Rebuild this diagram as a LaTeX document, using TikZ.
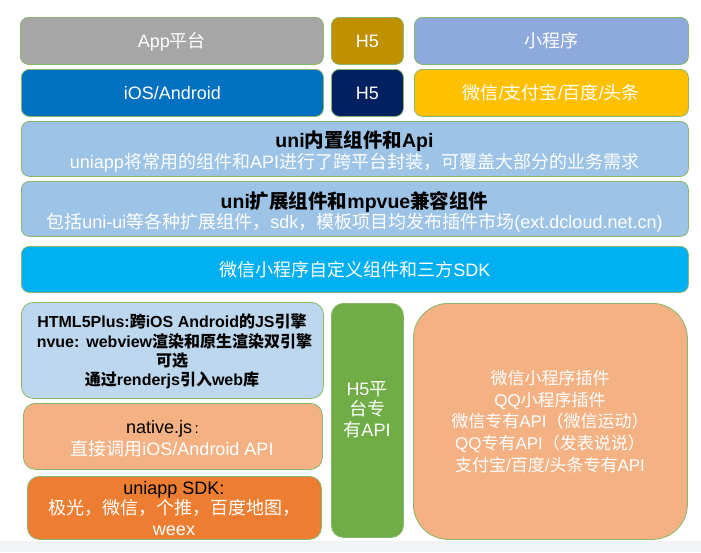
\documentclass[tikz,border=0pt]{standalone}
\usepackage{fontspec}
\setmainfont{Liberation Sans}
\newfontfamily\cjk{Noto Sans CJK SC}
\definecolor{bd}{RGB}{135,182,108}
\definecolor{cgray}{HTML}{A6A6A6}
\definecolor{cgold}{HTML}{BF9000}
\definecolor{cmp}{HTML}{8EA9DB}
\definecolor{cblue}{HTML}{0070C0}
\definecolor{cnavy}{HTML}{002060}
\definecolor{cyel}{HTML}{FFC000}
\definecolor{clblue}{HTML}{9DC3E6}
\definecolor{ccyan}{HTML}{00B0F0}
\definecolor{cpale}{HTML}{BDD7EE}
\definecolor{cpeach}{HTML}{F4B183}
\definecolor{corange}{HTML}{ED7D31}
\definecolor{cgreen}{HTML}{70AD47}
\definecolor{cstrip}{HTML}{F2F3F5}
\begin{document}
\begin{tikzpicture}[x=1pt,y=-1pt,
  box/.style={draw=bd, line width=0.8pt, rounded corners=8pt, inner sep=0pt, anchor=north west},
  t18/.style={inner sep=0pt, text=white, font=\fontsize{18}{21}\selectfont, text height=16.2pt, text depth=2.9pt},
  t17/.style={inner sep=0pt, text=white, font=\fontsize{17}{20}\selectfont, text height=15.3pt, text depth=2.7pt},
  tb19/.style={inner sep=0pt, text=black, font=\fontsize{19.5}{22}\selectfont\bfseries, text height=17.5pt, text depth=3.1pt},
  tb16/.style={inner sep=0pt, text=black, font=\fontsize{16}{19}\selectfont\bfseries, text height=14.4pt, text depth=2.6pt}]
\useasboundingbox (0,0) rectangle (701,552);
\node[fill=cstrip, inner sep=0pt, anchor=north west, minimum width=701pt, minimum height=11pt] (strip) at (0,541) {};
% top rows
\node[box, fill=cgray, minimum width=303pt, minimum height=47pt] (app) at (20,17) {};
\node[box, fill=cgold, minimum width=72pt, minimum height=47pt] (h5a) at (331,17) {};
\node[box, fill=cmp, minimum width=274pt, minimum height=47pt] (mp) at (414,17) {};
\node[box, fill=cblue, minimum width=302pt, minimum height=47pt] (ios) at (21,69) {};
\node[box, fill=cnavy, minimum width=72pt, minimum height=47pt] (h5b) at (331,69) {};
\node[box, fill=cyel, minimum width=274pt, minimum height=47pt] (wx) at (414,69) {};
\node[t18] (appt) at (app.center) {App{\cjk 平台}};
\node[t18] (h5at) at (h5a.center) {H5};
\node[t18] (mpt) at (mp.center) {\cjk 小程序};
\node[t18] (iost) at (ios.center) {iOS/Android};
\node[t18] (h5bt) at (h5b.center) {H5};
\node[t18] (wxt) at (wx.center) {{\cjk 微信}/{\cjk 支付宝}/{\cjk 百度}/{\cjk 头条}};
% full-width bands
\node[box, fill=clblue, minimum width=667pt, minimum height=55pt] (uni1) at (21,121) {};
\node[box, fill=clblue, minimum width=667pt, minimum height=55pt] (uni2) at (21,181) {};
\node[box, fill=ccyan, minimum width=667pt, minimum height=46pt] (cy) at (21,246) {};
\node[tb19] (uni1a) at (354.5,140) {uni{\cjk 内置组件和}Api};
\node[t18] (uni1b) at (354.5,162) {uniapp{\cjk 将常用的组件和}API{\cjk 进行了跨平台封装，可覆盖大部分的业务需求}};
\node[tb19] (uni2a) at (354.5,201) {uni{\cjk 扩展组件和}mpvue{\cjk 兼容组件}};
\node[t18] (uni2b) at (354.5,222) {{\cjk 包括}uni-ui{\cjk 等各种扩展组件，}sdk{\cjk ，模板项目均发布插件市场}(ext.dcloud.net.cn)};
\node[t18] (cyt) at (cy.center) {{\cjk 微信小程序自定义组件和三方}SDK};
% bottom area
\node[box, rounded corners=12pt, fill=cpale, minimum width=302pt, minimum height=96pt] (html) at (21,302) {};
\node[box, rounded corners=12pt, fill=cpeach, minimum width=299pt, minimum height=66pt] (nat) at (23,403) {};
\node[box, rounded corners=12pt, fill=corange, minimum width=294pt, minimum height=63pt] (sdk) at (27,476) {};
\node[box, rounded corners=12pt, fill=cgreen, minimum width=72pt, minimum height=234pt] (h5api) at (331,303) {};
\node[box, rounded corners=35pt, fill=cpeach, minimum width=274pt, minimum height=236pt] (big) at (413,303) {};
\node[tb16] (html1) at (172,322) {HTML5Plus:{\cjk 跨}iOS Android{\cjk 的}JS{\cjk 引擎}};
\node[tb16] (html2) at (174.5,341.5) {nvue:\kern1pt{} webview{\cjk 渲染和原生渲染双引擎}};
\node[tb16] (html3) at (172,360.5) {\cjk 可选};
\node[tb16] (html4) at (172,379.5) {{\cjk 通过}renderjs{\cjk 引入}web{\cjk 库}};
\node[t18, text=black] (nat1) at (162.5,426.7) {native.js\kern2.5pt{\fontsize{15}{15}\selectfont:}};
\node[t18] (nat2) at (172,449.3) {{\cjk 直接调用}iOS/Android API};
\node[t18, text=black] (sdk1) at (174,488.3) {uniapp SDK:};
\node[t18] (sdk2) at (174,508.3) {\cjk 极光，微信，个推，百度地图，};
\node[t18] (sdk3) at (174,529.3) {weex};
\node[t18] (h5p1) at (367,389) {H5{\cjk 平}};
\node[t18] (h5p2) at (367,409) {\cjk 台专};
\node[t18] (h5p3) at (367,430) {{\cjk 有}API};
\node[t17] (big1) at (550,378) {\cjk 微信小程序插件};
\node[t17] (big2) at (550,399.7) {QQ{\cjk 小程序插件}};
\node[t17] (big3) at (550,421.4) {{\cjk 微信专有}API{\cjk （微信运动）}};
\node[t17] (big4) at (550,443.1) {QQ{\cjk 专有}API{\cjk （发表说说）}};
\node[t17] (big5) at (550,464.8) {{\cjk 支付宝}/{\cjk 百度}/{\cjk 头条专有}API};
\end{tikzpicture}
\end{document}
